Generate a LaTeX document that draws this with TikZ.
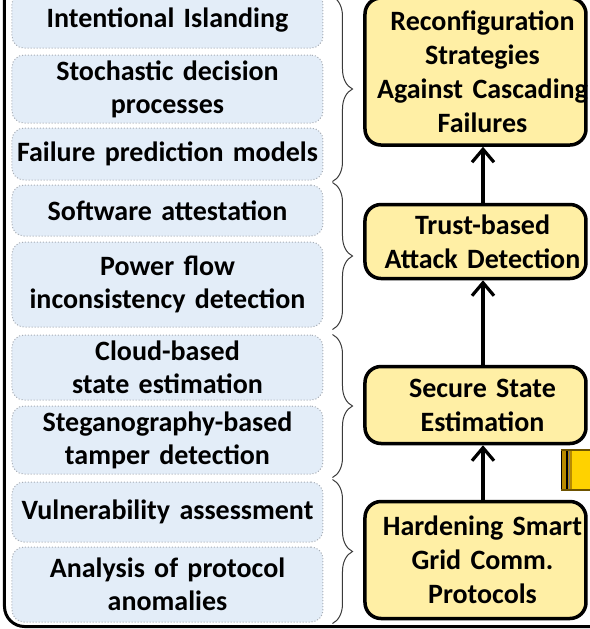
\documentclass[tikz,border=0pt]{standalone}
\usepackage{fontspec}
\setmainfont{Carlito}
\usetikzlibrary{arrows.meta,calc,decorations.pathreplacing}
\definecolor{leftF}{HTML}{E3EDF8}
\definecolor{leftD}{HTML}{A6ACB4}
\definecolor{goalF}{HTML}{FFEFA5}
\definecolor{chipF}{HTML}{FFD200}
\definecolor{chipD}{HTML}{B88A00}
\definecolor{braceC}{HTML}{3A3A3A}
\tikzset{
  lbox/.style={rounded corners=6pt, draw=leftD, densely dotted, line width=0.5pt, fill=leftF, align=center,
               text width=154pt, inner xsep=0.75pt, inner ysep=1pt, font=\fontsize{14}{16.5}\selectfont\bfseries},
  rbox/.style={rounded corners=8pt, draw=black, line width=1.75pt, fill=goalF, align=center,
               text width=110pt, inner xsep=0.25pt, inner ysep=1pt, font=\fontsize{14}{17}\selectfont\bfseries,
               execute at begin node={\advance\leftskip3.5pt\advance\rightskip-3.5pt}},
  arr/.style={-{Straight Barb[length=6.5pt,width=11pt]}, draw=black, line width=1.6pt},
  grp/.style={decorate, decoration={brace, amplitude=10pt}, draw=braceC, line width=0.5pt},
}

\begin{document}
\begin{tikzpicture}[x=0.5pt, y=-0.5pt]
\useasboundingbox (0,0) rectangle (590,629);
\clip (0,0) rectangle (590,629);
% outer frame, cut by the page
\draw[line width=1.5pt, rounded corners=10pt] (4.5,-60) -- (4.5,626.5) -- (700,626.5);
% left column: methods
\node[lbox, minimum height=28pt] (isl) at (167.5,20) {Intentional Islanding};
\node[lbox, minimum height=34pt] (mdp) at (167.5,89) {Stochastic decision\\processes};
\node[lbox, minimum height=26pt] (fpm) at (167.5,154) {Failure prediction models};
\node[lbox, minimum height=25.5pt] (att) at (167.5,210.5) {Software attestation};
\node[lbox, minimum height=42.5pt] (pfi) at (167.5,284.5) {Power flow\\inconsistency detection};
\node[lbox, minimum height=32.5pt] (cse) at (167.5,367.5) {Cloud-based\\state estimation};
\node[lbox, minimum height=34pt] (sgt) at (167.5,440) {Steganography-based\\tamper detection};
\node[lbox, minimum height=30pt] (vul) at (167.5,512) {Vulnerability assessment};
\node[lbox, minimum height=37.5pt] (apa) at (167.5,584.5) {Analysis of protocol\\anomalies};
% right column: goals
\node[rbox, minimum height=73.5pt] (rcf) at (475.5,71.5) {Reconfiguration\\Strategies\\Against Cascading\\Failures};
\node[rbox, minimum height=37pt] (tad) at (475.5,241.5) {Trust-based\\Attack Detection};
\node[rbox, minimum height=38.5pt] (sse) at (475.5,405) {Secure State\\Estimation};
\node[rbox, minimum height=58.5pt] (hsg) at (475.5,560) {Hardening Smart\\Grid Comm.\\Protocols};
% groups
\draw[grp] ($(isl.north east)+(9,5)$) -- ($(fpm.south east)+(9,1)$);
\draw[grp] ($(att.north east)+(9,-2)$) -- ($(pfi.south east)+(9,2)$);
\draw[grp] ($(cse.north east)+(9,0)$) -- ($(sgt.south east)+(9,3)$);
\draw[grp] ($(vul.north east)+(9,-2)$) -- ($(apa.south east)+(9,1)$);
% chain
\draw[arr] ([xshift=3.75pt]hsg.north) -- ([xshift=3.75pt]sse.south);
\draw[arr] ([xshift=3.75pt]sse.north) -- ([xshift=3.75pt]tad.south);
\draw[arr] ([xshift=3.75pt]tad.north) -- ([xshift=3.75pt]rcf.south);
% piece of the next figure
\fill[chipF] (561,450) rectangle (600,490);
\fill[chipD] (561,450) rectangle (572,490);
\draw[line width=0.6pt] (561.5,450) -- (561.5,490) (567,450) -- (567,490);
\draw[gray, line width=0.5pt] (569.5,450) -- (569.5,490);
\draw[chipD!60!black, line width=0.6pt] (561,450) -- (600,450) (561,490) -- (600,490);
\end{tikzpicture}
\end{document}
